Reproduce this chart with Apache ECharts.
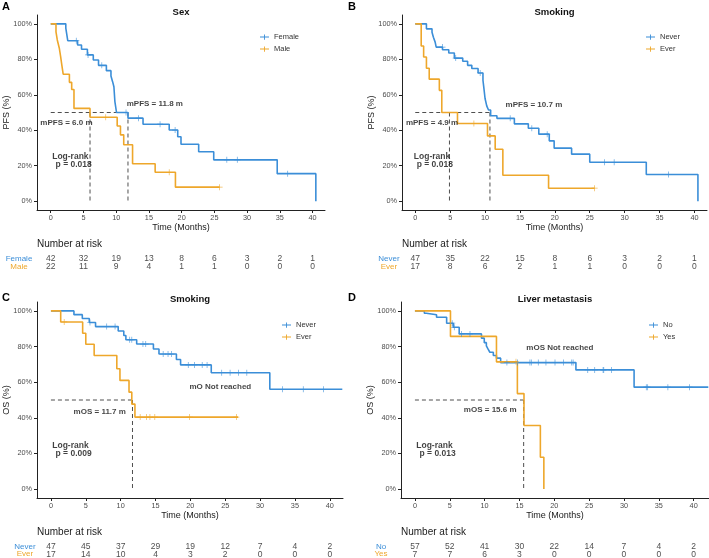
<!DOCTYPE html>
<html>
<head>
<meta charset="utf-8">
<title>Kaplan-Meier curves</title>
<style>
  html, body { margin: 0; padding: 0; background: #fff; }
  #chart { width: 709px; height: 558px; }
</style>
</head>
<body>
<div id="chart"></div>
<script src="https://cdn.jsdelivr.net/npm/echarts@6/dist/echarts.min.js"></script>
<script>
// ---- data ----
var timeTicks = [0, 5, 10, 15, 20, 25, 30, 35, 40];
var pctTicks = [0, 20, 40, 60, 80, 100];

// A: PFS by sex  [month, %]
var pfsFemale = [[0,100],[2.3,97.6],[2.6,90.5],[4.1,88.1],[4.7,85.7],[5.6,82.5],[6.5,79.6],[7.3,76.6],[8.5,73.6],[9.2,70.6],[9.45,67.4],[9.65,64.5],[9.8,56.2],[10.05,50.0],[11.8,46.8],[14.1,43.4],[18.1,40.1],[19.4,36.3],[19.9,32.1],[22.6,27.9],[24.9,23.3],[34.6,15.5],[40.5,0]];
var pfsFemaleCens = [[3.9,90.5],[5.7,82.5],[7.8,76.6],[11.5,50.0],[13.4,46.8],[16.7,43.4],[19.0,40.1],[26.9,23.3],[28.5,23.3],[36.2,15.5]];
var pfsMale = [[0,100],[0.8,95.5],[1.0,90.9],[1.3,86.4],[1.5,81.8],[1.7,76.6],[1.9,71.6],[2.85,67.0],[3.2,63.0],[3.55,52.3],[6.0,47.3],[10.15,42.4],[10.65,37.4],[11.15,31.8],[12.5,21.1],[15.95,16.3],[19.05,7.9],[25.8,7.9]];
var pfsMaleCens = [[8.4,47.3],[18.1,16.3],[25.8,7.9]];

// B: PFS by smoking
var pfsNever = [[0,100],[1.6,97.2],[2.4,95.3],[2.6,92.5],[2.85,89.7],[3.0,86.9],[3.9,85.4],[4.8,83.6],[5.6,80.7],[6.8,78.9],[7.5,76.6],[8.1,74.8],[9.0,72.3],[9.7,68.2],[9.8,64.9],[10.0,57.9],[10.25,53.6],[10.5,51.4],[10.8,48.2],[11.7,46.7],[14.2,43.6],[16.2,41.1],[17.7,37.8],[19.2,34.0],[19.9,29.9],[22.4,26.5],[25.0,21.9],[33.1,15.0],[40.5,0]];
var pfsNeverCens = [[3.9,86.9],[5.8,80.7],[9.3,72.3],[13.6,46.7],[16.7,41.1],[18.9,37.8],[27.1,21.9],[28.5,21.9],[36.3,15.0]];
var pfsEver = [[0,100],[0.85,87.5],[1.2,81.3],[1.6,75.0],[2.0,68.8],[3.45,62.5],[3.8,50.0],[6.05,43.8],[10.35,36.8],[11.45,29.3],[12.55,14.6],[19.1,7.3],[25.7,7.3]];
var pfsEverCens = [[8.4,43.8],[25.7,7.3]];

// C: OS by smoking
var osNever = [[0,100],[3.3,97.9],[4.5,95.7],[5.5,93.5],[6.4,91.2],[9.65,88.7],[10.45,86.2],[10.75,83.8],[12.3,81.4],[14.7,78.6],[15.5,75.8],[18.0,72.7],[18.6,69.7],[23.0,65.3],[31.4,56.0],[41.8,56.0]];
var osNeverCens = [[5.6,93.5],[8.0,91.2],[9.2,91.2],[11.3,83.8],[11.6,83.8],[13.2,81.4],[13.6,81.4],[16.1,75.8],[16.8,75.8],[17.3,75.8],[19.7,69.7],[20.6,69.7],[21.7,69.7],[22.4,69.7],[24.5,65.3],[25.7,65.3],[26.9,65.3],[28.1,65.3],[33.2,56.0],[36.2,56.0],[39.1,56.0]];
var osEver = [[0,100],[1.4,93.8],[4.55,87.5],[5.0,81.3],[6.2,75.0],[9.45,67.5],[9.9,61.0],[11.2,54.4],[11.6,47.7],[12.05,40.4],[26.85,40.4]];
var osEverCens = [[1.9,93.8],[12.8,40.4],[13.7,40.4],[14.2,40.4],[14.9,40.4],[19.9,40.4],[26.6,40.4]];

// D: OS by liver metastasis
var osNo = [[0,100],[1.35,98.7],[1.65,97.8],[3.1,96.4],[4.55,93.1],[5.5,90.8],[6.35,87.1],[9.55,84.7],[9.95,82.2],[10.25,80.4],[10.5,78.5],[10.75,76.8],[11.25,75.0],[11.7,73.5],[12.3,71.0],[23.1,66.9],[31.45,57.2],[42.1,57.2]];
var osNoCens = [[5.35,93.1],[5.65,90.8],[6.7,87.1],[7.9,87.1],[13.2,71.0],[14.7,71.0],[16.5,71.0],[16.7,71.0],[17.7,71.0],[18.8,71.0],[20.1,71.0],[21.3,71.0],[22.5,71.0],[22.7,71.0],[24.8,66.9],[25.8,66.9],[27.0,66.9],[27.1,66.9],[28.2,66.9],[33.2,57.2],[33.4,57.2],[36.3,57.2],[39.4,57.2]];
var osYes = [[0,100],[5.1,85.7],[11.7,71.4],[14.7,53.6],[15.65,35.7],[18.0,17.9],[18.5,0]];
var osYesCens = [[14.5,71.4]];

// number at risk at timeTicks
var riskFemale = [42, 32, 19, 13, 8, 6, 3, 2, 1];
var riskMale = [22, 11, 9, 4, 1, 1, 0, 0, 0];
var riskNeverPfs = [47, 35, 22, 15, 8, 6, 3, 2, 1];
var riskEverPfs = [17, 8, 6, 2, 1, 1, 0, 0, 0];
var riskNeverOs = [47, 45, 37, 29, 19, 12, 7, 4, 2];
var riskEverOs = [17, 14, 10, 4, 3, 2, 0, 0, 0];
var riskNo = [57, 52, 41, 30, 22, 14, 7, 4, 2];
var riskYes = [7, 7, 6, 3, 0, 0, 0, 0, 0];

// medians and annotations [x, y, text]
var mediansA = [11.8, 6.0];
var mediansB = [10.7, 4.9];
var mediansC = [11.7];
var mediansD = [15.6];
var notesA = [[15.9, 54.7, 'mPFS = 11.8 m'], [2.4, 44.3, 'mPFS = 6.0 m']];
var notesB = [[17.0, 54.6, 'mPFS = 10.7 m'], [2.4, 44.3, 'mPFS = 4.9 m']];
var notesC = [[24.3, 57.5, 'mO Not reached'], [7.0, 43.4, 'mOS = 11.7 m']];
var notesD = [[20.8, 79.4, 'mOS Not reached'], [10.8, 44.4, 'mOS = 15.6 m']];
var logrankA = [[3.0, 25.0, 'Log-rank'], [3.5, 20.3, 'p = 0.018']];
var logrankB = [[2.4, 25.0, 'Log-rank'], [2.8, 20.3, 'p = 0.018']];
var logrankC = [[2.8, 24.3, 'Log-rank'], [3.25, 19.7, 'p = 0.009']];
var logrankD = [[2.8, 24.2, 'Log-rank'], [3.25, 19.7, 'p = 0.013']];

// ---- layout ----
var BLUE = '#3b8ed8', ORANGE = '#eea72b';
var FONT = 'Liberation Sans, Arial, Helvetica, sans-serif';
var PLUS = 'path://M4.4,0h1.2v10h-1.2zM0,4.4h10v1.2h-10z';
var LEG_ICON = 'path://M0,4.4h12v1.2h-12zM5.4,1.5h1.2v7h-1.2z';

var panels = [
  { letter: 'A', title: 'Sex', yName: 'PFS (%)', box: [37, 15, 288, 195], xr: [-2.1, 41.9],
    riskTop: 255, rowMargin: 18, legendAt: [255, 28], letterAt: [2, 7],
    groups: [['Female', pfsFemale, pfsFemaleCens, riskFemale], ['Male', pfsMale, pfsMaleCens, riskMale]],
    medians: mediansA, notes: notesA, logrank: logrankA },
  { letter: 'B', title: 'Smoking', yName: 'PFS (%)', box: [402, 15, 305, 195], xr: [-1.9, 41.8],
    riskTop: 255, rowMargin: 13, legendAt: [641, 28], letterAt: [348, 7],
    groups: [['Never', pfsNever, pfsNeverCens, riskNeverPfs], ['Ever', pfsEver, pfsEverCens, riskEverPfs]],
    medians: mediansB, notes: notesB, logrank: logrankB },
  { letter: 'C', title: 'Smoking', yName: 'OS (%)', box: [37, 302, 306, 196], xr: [-2.0, 41.9],
    riskTop: 543, rowMargin: 12, legendAt: [277, 316], letterAt: [2, 298],
    groups: [['Never', osNever, osNeverCens, riskNeverOs], ['Ever', osEver, osEverCens, riskEverOs]],
    medians: mediansC, notes: notesC, logrank: logrankC },
  { letter: 'D', title: 'Liver metastasis', yName: 'OS (%)', box: [401, 302, 308, 196], xr: [-2.0, 42.2],
    riskTop: 543, rowMargin: 20, legendAt: [644, 316], letterAt: [348, 298],
    groups: [['No', osNo, osNoCens, riskNo], ['Yes', osYes, osYesCens, riskYes]],
    medians: mediansD, notes: notesD, logrank: logrankD }
];

var grid = [], xAxis = [], yAxis = [], series = [], legend = [], graphic = [];
var axisCol = '#222';

panels.forEach(function (p, i) {
  var b = p.box, gi = 2 * i, ri = 2 * i + 1;
  grid.push({ left: b[0], top: b[1], width: b[2], height: b[3] });
  grid.push({ left: b[0], top: p.riskTop, width: b[2], height: 16 });

  xAxis.push({
    gridIndex: gi, type: 'value', min: p.xr[0], max: p.xr[1],
    name: 'Time (Months)', nameLocation: 'middle', nameGap: 13, nameMoveOverlap: false,
    nameTextStyle: { fontSize: 9, color: '#1a1a1a' },
    axisLine: { onZero: false, lineStyle: { color: axisCol, width: 1 } },
    axisTick: { show: true, customValues: timeTicks, length: 3, lineStyle: { color: axisCol } },
    axisLabel: { customValues: timeTicks, fontSize: 7.3, color: '#4d4d4d', margin: 4 },
    splitLine: { show: false }
  });
  xAxis.push({ gridIndex: ri, type: 'value', min: p.xr[0], max: p.xr[1], show: false });

  yAxis.push({
    gridIndex: gi, type: 'value', min: -5, max: 105,
    name: p.yName, nameLocation: 'middle', nameGap: 26, nameMoveOverlap: false,
    nameTextStyle: { fontSize: 9, color: '#1a1a1a' },
    axisLine: { show: true, onZero: false, lineStyle: { color: axisCol, width: 1 } },
    axisTick: { show: true, customValues: pctTicks, length: 3, lineStyle: { color: axisCol } },
    axisLabel: { customValues: pctTicks, formatter: '{value}%', fontSize: 7.3, color: '#4d4d4d', margin: 5 },
    splitLine: { show: false }
  });
  yAxis.push({
    gridIndex: ri, type: 'category', inverse: true,
    data: [p.groups[0][0], p.groups[1][0]],
    axisLine: { show: false }, axisTick: { show: false }, splitLine: { show: false },
    axisLabel: {
      interval: 0, hideOverlap: false,
      align: 'center', margin: p.rowMargin, fontSize: 8,
      color: function (v, idx) { return idx === 0 ? BLUE : ORANGE; }
    }
  });

  // median guide lines
  var dash = { type: 'line', xAxisIndex: gi, yAxisIndex: gi, showSymbol: false, symbol: 'none',
    lineStyle: { color: '#222', width: 0.8, type: [4, 3] }, z: 2, silent: true };
  var mMax = Math.max.apply(null, p.medians);
  series.push(Object.assign({ name: '_mh' + i, data: [[0, 50], [mMax, 50]] }, dash));
  p.medians.forEach(function (m, k) {
    series.push(Object.assign({ name: '_mv' + i + k, data: [[m, 50], [m, 0]] }, dash));
  });

  p.groups.forEach(function (g, k) {
    var col = k === 0 ? BLUE : ORANGE;
    series.push({
      type: 'line', name: g[0], xAxisIndex: gi, yAxisIndex: gi, data: g[1], step: 'end',
      showSymbol: false, symbol: 'none', color: col, lineStyle: { width: 1.6, color: col }, z: 3
    });
    series.push({
      type: 'scatter', name: g[0] + ' censored', xAxisIndex: gi, yAxisIndex: gi, data: g[2],
      symbol: PLUS, symbolSize: 6, itemStyle: { color: col }, z: 4, silent: true
    });
    series.push({
      type: 'scatter', name: g[0] + ' at risk', xAxisIndex: ri, yAxisIndex: ri,
      data: timeTicks.map(function (t, j) { return [t, g[0], g[3][j]]; }),
      symbolSize: 1, itemStyle: { color: 'transparent' }, silent: true,
      label: { show: true, position: 'inside', fontSize: 8.5, color: '#1a1a1a',
        formatter: function (q) { return q.value[2]; } }
    });
  });

  var noteSeries = function (arr, size) {
    return {
      type: 'scatter', name: '_n' + i + size, xAxisIndex: gi, yAxisIndex: gi, data: arr,
      symbolSize: 1, itemStyle: { color: 'transparent' }, silent: true, z: 5,
      label: { show: true, position: 'inside', fontSize: size, fontWeight: 'bold', color: '#111',
        formatter: function (q) { return q.value[2]; } }
    };
  };
  series.push(noteSeries(p.notes, 8));
  series.push(noteSeries(p.logrank, 8.5));

  legend.push({
    data: [p.groups[0][0], p.groups[1][0]], orient: 'vertical', left: p.legendAt[0], top: p.legendAt[1],
    icon: LEG_ICON, itemWidth: 9, itemHeight: 7, itemGap: 4, selectedMode: false,
    textStyle: { fontSize: 7.5, color: '#333' }
  });

  var cx = b[0] + b[2] / 2;
  graphic.push({ type: 'text', x: cx, y: b[1] - 3,
    style: { text: p.title, font: 'bold 9.5px ' + FONT, fill: '#111', align: 'center', verticalAlign: 'middle',
      textAlign: 'center', textVerticalAlign: 'middle' } });
  graphic.push({ type: 'text', x: p.letterAt[0], y: p.letterAt[1],
    style: { text: p.letter, font: 'bold 11px ' + FONT, fill: '#000', align: 'left', verticalAlign: 'middle',
      textAlign: 'left', textVerticalAlign: 'middle' } });
  graphic.push({ type: 'text', x: b[0], y: p.riskTop - 11,
    style: { text: 'Number at risk', font: '10px ' + FONT, fill: '#1a1a1a', align: 'left', verticalAlign: 'middle',
      textAlign: 'left', textVerticalAlign: 'middle' } });
});

var chart = echarts.init(document.getElementById('chart'), null, { renderer: 'canvas' });
chart.setOption({
  animation: false,
  backgroundColor: '#fff',
  textStyle: { fontFamily: FONT },
  grid: grid,
  xAxis: xAxis,
  yAxis: yAxis,
  legend: legend,
  graphic: graphic,
  series: series
});
window.addEventListener('resize', chart.resize);
</script>
</body>
</html>
